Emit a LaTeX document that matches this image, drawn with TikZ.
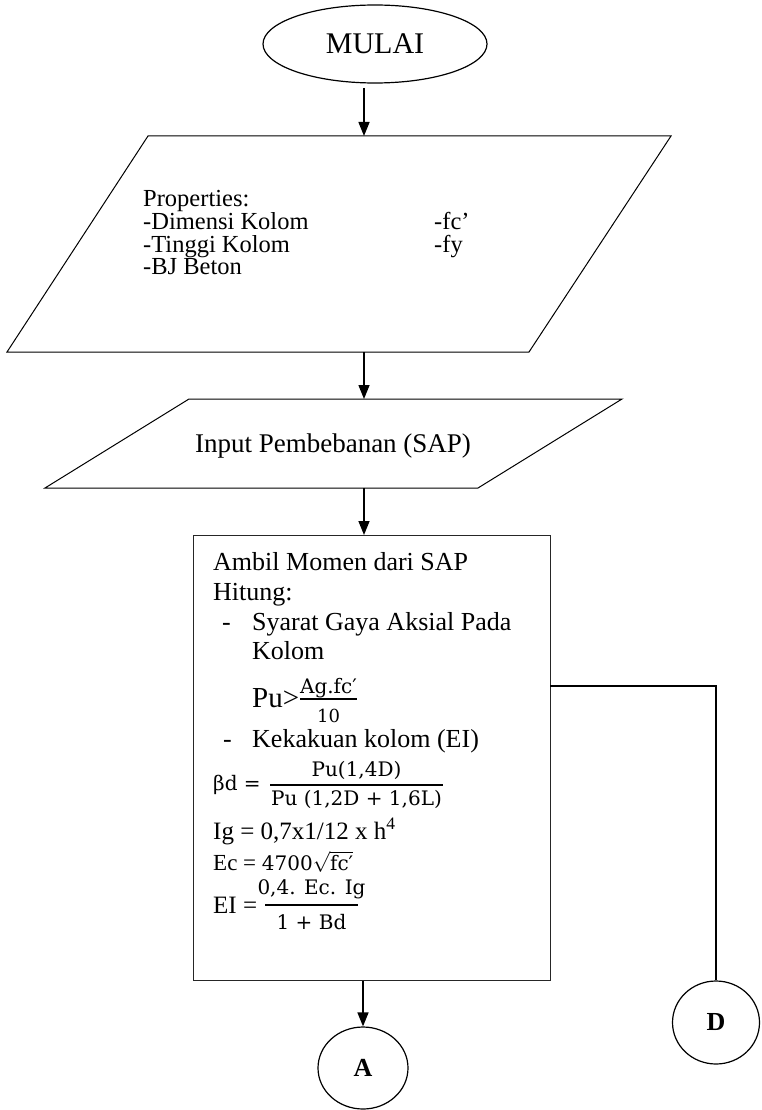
\documentclass[tikz,border=0pt]{standalone}
\usepackage{fontspec}
\setmainfont{Liberation Serif}
\newfontfamily\cmbfont{DejaVu Serif}
\usetikzlibrary{shapes.geometric,arrows.meta}
\begin{document}
\begin{tikzpicture}[x=1pt,y=-1pt,
  shp/.style={draw,line width=1pt},
  arr/.style={line width=1.5pt,-{Triangle[length=14pt,width=11pt]}},
  txt/.style={anchor=base west,inner sep=0pt},
  ctxt/.style={anchor=base,inner sep=0pt},
  bt/.style={font=\fontsize{26}{30}\selectfont},
  pt/.style={font=\fontsize{24.5}{27}\selectfont},
  mt/.style={font=\cmbfont\fontsize{20}{24}\selectfont},
  fracbar/.style={line width=1.6pt},
  conn/.style={draw,ellipse,line width=1.2pt,inner sep=0pt,font=\fontsize{26}{30}\selectfont\bfseries}
]
\useasboundingbox (0,0) rectangle (761,1110);

% start
\node[draw,ellipse,line width=1.2pt,minimum width=224pt,minimum height=78pt,inner sep=0pt,
  font=\fontsize{30}{34}\selectfont] (mulai) at (375,44) {MULAI};

% properties parallelogram
\coordinate (p1a) at (148,136);
\coordinate (p1b) at (671,136);
\coordinate (p1c) at (529,352);
\coordinate (p1d) at (7,352);
\draw[shp] (p1a) -- (p1b) -- (p1c) -- (p1d) -- cycle;
\node[txt,pt] (pr0) at (143,207) {Properties:};
\node[txt,pt] (pr1) at (143,229.5) {-Dimensi Kolom};
\node[txt,pt] (pr2) at (143,252) {-Tinggi Kolom};
\node[txt,pt] (pr3) at (143,274.5) {-BJ Beton};
\node[txt,pt] (pr4) at (434,229.5) {-fc’};
\node[txt,pt] (pr5) at (434,252) {-fy};

% input parallelogram
\coordinate (p2a) at (189,399);
\coordinate (p2b) at (622,399);
\coordinate (p2c) at (478,488);
\coordinate (p2d) at (45,488);
\draw[shp] (p2a) -- (p2b) -- (p2c) -- (p2d) -- cycle;
\node[ctxt,font=\fontsize{27}{30}\selectfont] (inp) at (333,452) {Input Pembebanan (SAP)};

% process box
\node[draw,line width=1.1pt,draw=black!85,minimum width=357pt,minimum height=445pt,inner sep=0pt,anchor=north west] (box) at (193,535) {};
\node[txt,bt] (b1) at (213,570) {Ambil Momen dari SAP};
\node[txt,bt] (b2) at (213,600) {Hitung:};
\node[txt,bt] (b3d) at (222,630) {-};
\node[txt,bt] (b3) at (252,630) {Syarat Gaya Aksial Pada};
\node[txt,bt] (b4) at (252,659) {Kolom};
\node[txt,font=\fontsize{29}{32}\selectfont] (b5) at (252,707) {Pu>};
\draw[fracbar] (300,699) -- (357,699);
\node[ctxt,mt] (b5n) at (328.5,693) {Ag.fc′};
\node[ctxt,font=\cmbfont\fontsize{18}{22}\selectfont] (b5d) at (328.5,722) {10};
\node[txt,bt] (b6d) at (223,747) {-};
\node[txt,bt] (b6) at (252,747) {Kekakuan kolom (EI)};
\node[txt,mt] (b7) at (213,790) {βd =};
\draw[fracbar] (270,785) -- (443,785);
\node[ctxt,mt] (b7n) at (356.5,776) {Pu(1,4D)};
\node[ctxt,mt] (b7d) at (356.5,805.5) {Pu (1,2D + 1,6L)};
\node[txt,font=\fontsize{25}{29}\selectfont] (b8) at (213,839) {Ig = 0,7x1/12 x h\textsuperscript{4}};
\node[txt,font=\fontsize{23}{26}\selectfont] (b9) at (213,870) {Ec = \cmbfont\fontsize{20}{24}\selectfont 4700$\sqrt{\mbox{fc′}}$};
\node[txt,font=\fontsize{25}{28}\selectfont] (b10) at (213,913) {EI =};
\draw[fracbar] (265,905) -- (358,905);
\node[ctxt,mt] (b10n) at (311.5,894) {0,4. Ec. Ig};
\node[ctxt,mt] (b10d) at (311.5,929) {1 + Bd};

% connectors
\node[conn,minimum width=90pt,minimum height=82pt] (A) at (363,1068) {A};
\node[conn,minimum width=87pt,minimum height=83pt] (D) at (716,1022.5) {D};

\coordinate (s1) at (364,88);
\draw[arr] (s1) -- (s1 |- p1a);
\coordinate (s2) at (364,352);
\draw[arr] (s2) -- (s2 |- p2a);
\coordinate (s3) at (364,488);
\draw[arr] (s3) -- (s3 |- box.north);
\draw[arr] (box.south -| A.north) -- (A.north);
\coordinate (dj) at (550,686);
\draw[line width=1.3pt] (dj) -| (D.north);
\end{tikzpicture}
\end{document}
